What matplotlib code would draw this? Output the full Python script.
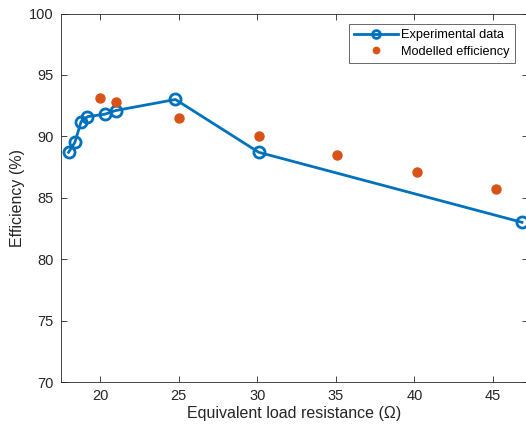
import matplotlib
matplotlib.use("Agg")
import matplotlib.pyplot as plt

exp_x = [18.0, 18.4, 18.8, 19.2, 20.3, 21.0, 24.8, 30.1, 46.85]
exp_y = [88.7, 89.5, 91.2, 91.6, 91.8, 92.1, 93.0, 88.7, 83.0]
mod_x = [20.0, 21.0, 25.05, 30.1, 35.1, 40.15, 45.2]
mod_y = [93.1, 92.8, 91.5, 90.0, 88.5, 87.1, 85.7]
xticks = [20, 25, 30, 35, 40, 45]
yticks = [70, 75, 80, 85, 90, 95, 100]

plt.rcParams['font.family'] = ['Liberation Sans', 'DejaVu Sans']
W, H = 526, 426
fig = plt.figure(figsize=(W/100, H/100), dpi=100)
x0, x1, ytop, ybot = 60.7, 527.5, 13.5, 382.0
ax = fig.add_axes([x0/W, 1-ybot/H, (x1-x0)/W, (ybot-ytop)/H])

blue = '#0072BD'
orange = '#D95319'
ax.plot(exp_x, exp_y, '-o', color=blue, lw=2.0, ms=8, mfc='none', mew=2.0,
        label='Experimental data')
ax.plot(mod_x, mod_y, 'o', color=orange, ms=6.5, mec=orange, mfc=orange,
        label='Modelled efficiency')

ax.set_xlim(17.5, 47.2)
ax.set_ylim(70, 100)
ax.set_xticks(xticks)
ax.set_yticks(yticks)
ax.tick_params(direction='in', top=True, right=True, length=4, width=0.6,
               labelsize=10.5, colors='#262626', pad=5)
for s in ax.spines.values():
    s.set_color('#262626')
    s.set_linewidth(0.6)
ax.set_xlabel('Equivalent load resistance (Ω)', fontsize=11.5, color='#262626', labelpad=2)
ax.set_ylabel('Efficiency (%)', fontsize=11.5, color='#262626', labelpad=3)

leg = ax.legend(loc='upper right',
                bbox_to_anchor=((515 - x0) / (x1 - x0), 1 - (24 - ytop) / (ybot - ytop)),
                fontsize=9.2, frameon=True, fancybox=False, edgecolor='#262626',
                handlelength=3.4, borderpad=0.4, labelspacing=0.38, handletextpad=0.3,
                borderaxespad=0, markerscale=0.7)
leg.get_frame().set_linewidth(0.6)

fig.savefig('out.png', dpi=100)
